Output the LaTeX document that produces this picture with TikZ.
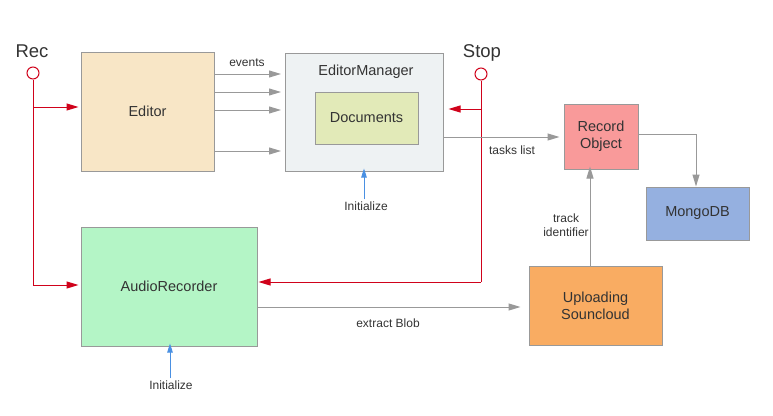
\documentclass[tikz,border=0pt]{standalone}
\usepackage{fontspec}
\setmainfont{Liberation Sans}
\usetikzlibrary{arrows.meta}
\definecolor{lgray}{HTML}{999999}
\definecolor{rred}{HTML}{D0021B}
\definecolor{bblue}{HTML}{4A90E2}
\definecolor{tgray}{HTML}{333333}
\tikzset{
  box/.style={draw=lgray, line width=1pt, inner sep=0pt, text=tgray, font=\fontsize{14.5}{17}\selectfont, align=center},
  garrow/.style={draw=lgray, line width=1pt, -{Triangle[length=12pt,width=7pt]}},
  rarrow/.style={draw=rred, line width=1pt, -{Triangle[length=12pt,width=7pt]}},
  barrow/.style={draw=bblue, line width=1pt, -{Triangle[length=9pt,width=5.5pt]}},
  lbl/.style={text=tgray, font=\fontsize{12}{14}\selectfont, align=center, inner sep=0pt},
  big/.style={text=tgray, font=\fontsize{18.5}{21}\selectfont, inner sep=0pt},
  term/.style={circle, draw=rred, fill=white, line width=1pt, minimum size=12pt, inner sep=0pt},
}
\begin{document}
\begin{tikzpicture}[x=1pt,y=-1pt]
\useasboundingbox (0,0) rectangle (773,415);
% boxes
\node[box, fill={rgb,255:red,248;green,230;blue,198}, minimum width=133pt, minimum height=119pt] (editor) at (147.5,111.5) {Editor};
\node[box, fill={rgb,255:red,238;green,242;blue,243}, minimum width=158pt, minimum height=118pt] (mgr) at (364,112) {};
\node[lbl, font=\fontsize{14.5}{17}\selectfont] (mgrlbl) at (366,72) {EditorManager};
\node[box, fill={rgb,255:red,226;green,234;blue,184}, minimum width=103pt, minimum height=52pt] (docs) at (366.5,118) {Documents};
\node[box, fill={rgb,255:red,249;green,154;blue,154}, minimum width=74pt, minimum height=65pt] (rec) at (601,136.5) {Record\\Object};
\node[box, fill={rgb,255:red,149;green,176;blue,224}, minimum width=103pt, minimum height=53pt] (mongo) at (697.5,213.5) {MongoDB};
\node[box, fill={rgb,255:red,249;green,172;blue,98}, minimum width=133pt, minimum height=79pt] (upl) at (595.5,305.5) {Uploading\\Souncloud};
\node[box, fill={rgb,255:red,180;green,245;blue,198}, minimum width=176pt, minimum height=119pt] (audio) at (169,286.5) {AudioRecorder};
% terminals
\node[term] (recc) at (33,73) {};
\node[big] (reclbl) at (32,51) {Rec};
\node[term] (stopc) at (481,74) {};
\node[big] (stoplbl) at (482,53) {Stop};
% Editor events
\coordinate (e1) at (214,74); \coordinate (m1) at (281,74);
\coordinate (e2) at (214,92); \coordinate (m2) at (281,92);
\coordinate (e3) at (214,110); \coordinate (m3) at (281,110);
\coordinate (e4) at (214,151); \coordinate (m4) at (281,151);
\draw[garrow] (e1) -- (m1);
\draw[garrow] (e2) -- (m2);
\draw[garrow] (e3) -- (m3);
\draw[garrow] (e4) -- (m4);
\node[lbl] (events) at (247,63) {events};
% Rec lines
\coordinate (rj1) at (33,107);
\coordinate (rj2) at (33,285);
\draw[draw=rred, line width=1pt] (recc.south) -- (rj2);
\draw[rarrow] (rj1) -- ([xshift=-2pt]editor.west |- rj1);
\draw[rarrow] (rj2) -- ([xshift=-2pt]audio.west |- rj2);
% Stop lines
\coordinate (sj1) at (481,109);
\coordinate (sj2) at (481,282);
\draw[draw=rred, line width=1pt] (stopc.south) -- (sj2);
\draw[rarrow] (sj1) -- ([xshift=5pt]mgr.east |- sj1);
\draw[rarrow] (sj2) -- ([xshift=1pt]audio.east |- sj2);
% tasks list
\draw[garrow] (mgr.east |- 0,137) -- ([xshift=-4pt]rec.west |- 0,137);
\node[lbl] (tasks) at (512,150) {tasks list};
% Record -> Mongo
\draw[garrow] (rec.east |- 0,134) -| (mongo.north -| 696,0);
% Upload -> Record
\draw[garrow] (upl.north -| 590,0) -- ([yshift=3pt]rec.south -| 590,0);
\node[lbl] (track) at (566,225) {track\\identifier};
% extract blob
\draw[garrow] (audio.east |- 0,307) -- ([xshift=-8pt]upl.west |- 0,307);
\node[lbl] (blob) at (388,323) {extract Blob};
% Initialize
\node[lbl] (init1) at (366,206) {Initialize};
\draw[barrow] (init1.north -| 364,0) ++(0,-2) -- ([yshift=3pt]mgr.south -| 364,0);
\node[lbl] (init2) at (171,385) {Initialize};
\draw[barrow] (init2.north -| 170,0) ++(0,-2) -- ([yshift=3pt]audio.south -| 170,0);
\end{tikzpicture}
\end{document}
